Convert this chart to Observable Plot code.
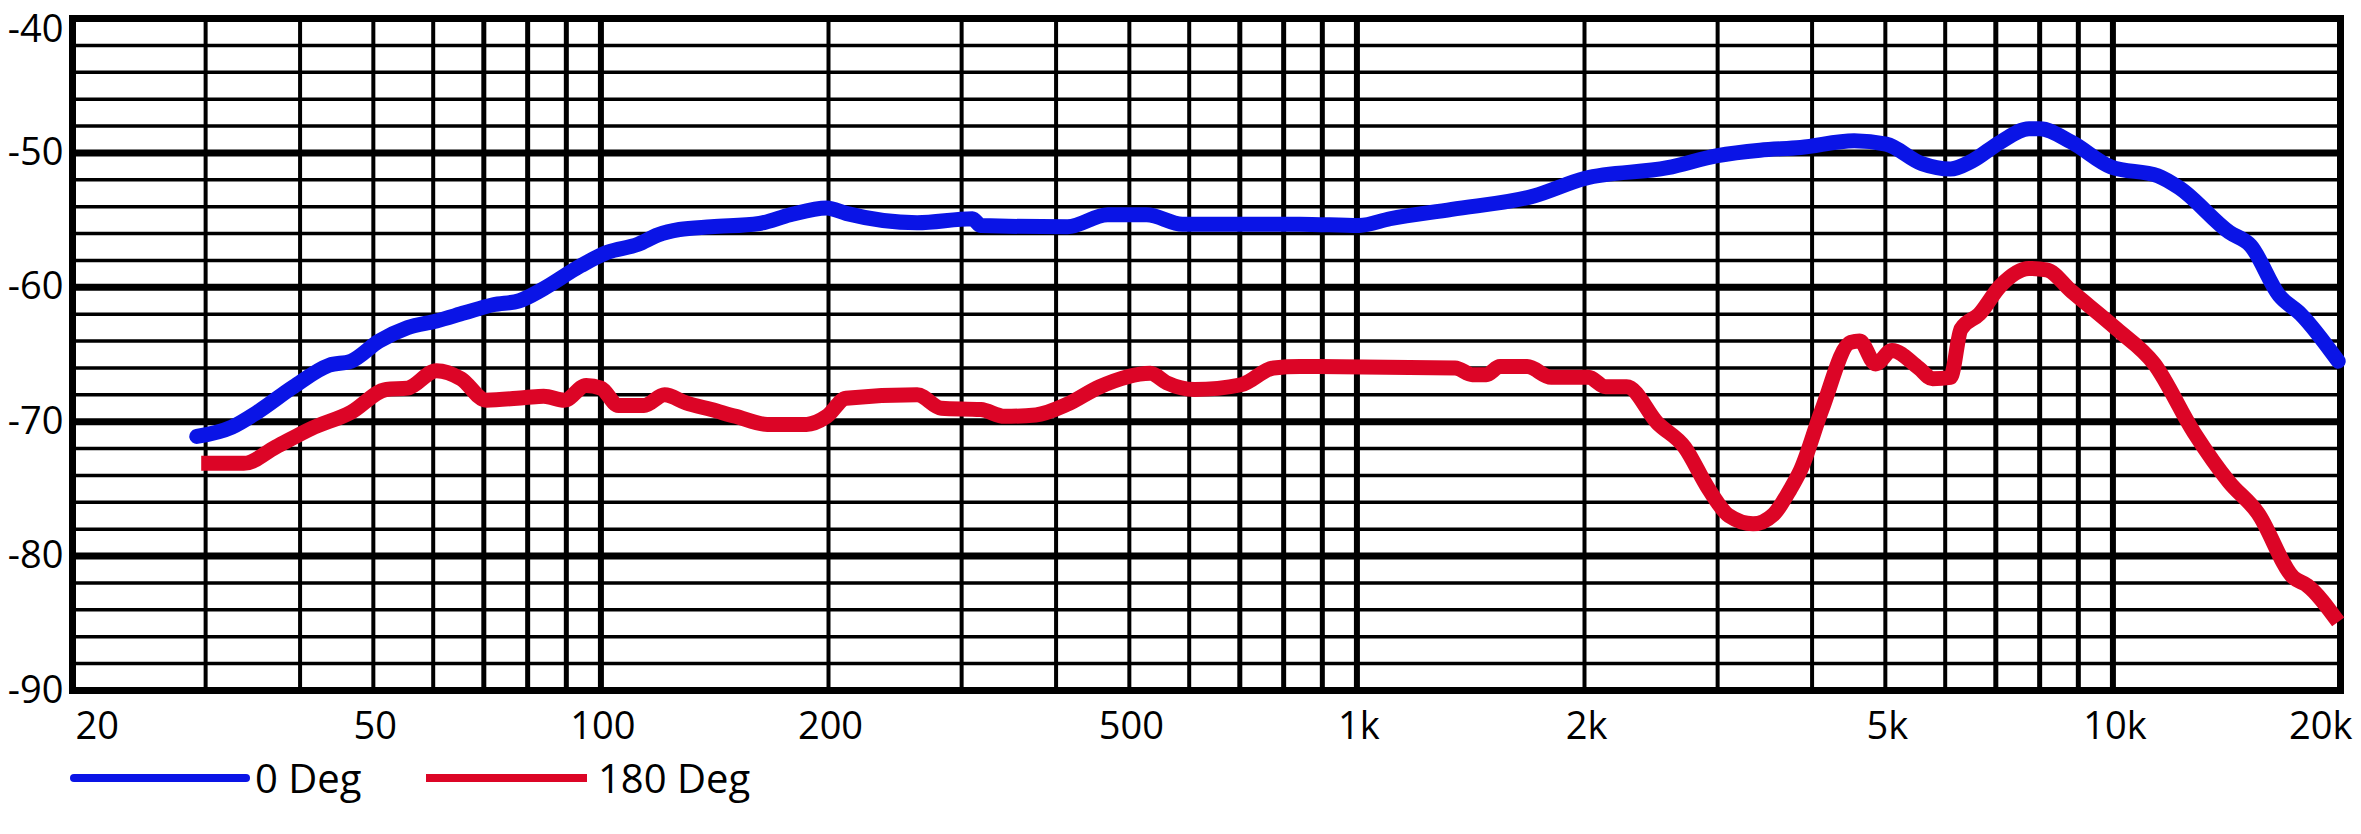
<!DOCTYPE html>
<html><head><meta charset="utf-8">
<script src="https://cdn.jsdelivr.net/npm/d3@7"></script>
<script src="https://cdn.jsdelivr.net/npm/@observablehq/plot@0.6"></script>
<style>
html,body{margin:0;padding:0;background:#fff;}
body{width:2361px;height:834px;overflow:hidden;font-family:"Open Sans",sans-serif;}
svg{display:block;}
</style></head><body>
<div id="chart"></div>
<div id="legend"></div>
<script>
// ---- data ----
const seriesNames = ["0 Deg", "180 Deg"];
const seriesColors = ["#0a14e6", "#dc0526"];

const deg0Freq = [29.2,32.5,35.1,39.2,43.7,46.7,50.9,55.5,60.6,66,72,78,84,94,102,112,119,127,140,162,178,199,211,262,310,318,414,468,527,588,840,1007,1106,1335,1714,2000,2576,3000,3414,3862,4547,5012,5588,6096,6511,7096,7745,8000,8815,9946,11460,12240,14250,15210,16590,17720,19860];
const deg0Db   = [-71.1,-70.4,-69.3,-67.4,-65.8,-65.5,-64.0,-63.0,-62.5,-61.9,-61.3,-61.0,-60.1,-58.4,-57.4,-56.8,-56.1,-55.7,-55.5,-55.25,-54.6,-54.1,-54.5,-55.2,-54.9,-55.4,-55.5,-54.6,-54.6,-55.3,-55.3,-55.4,-54.9,-54.2,-53.2,-51.9,-51.1,-50.2,-49.8,-49.6,-49.1,-49.35,-50.8,-51.2,-50.6,-49.2,-48.2,-48.2,-49.2,-51.05,-51.7,-52.6,-55.9,-56.9,-60.6,-62.0,-65.5];

const deg180Freq = [29.6,33.7,37.1,41.4,46.7,52,55.5,60.6,65.3,70.5,79.5,84,89.5,95.6,100,105.5,114,121.4,129.6,140,150.7,166,187,199,211,262,282,318,342,376,414,457,533,560,610,703,776,841,1349,1421,1483,1546,1680,1807,2024,2133,2274,2497,2713,2918,3106,3342,3557,3745,3862,4122,4497,4624,4855,5102,5535,5773,6096,6297,6656,7096,7745,8167,8815,10110,11340,12800,14250,15550,17330,18090,19860];
const deg180Db   = [-73.1,-73.1,-71.9,-70.5,-69.3,-67.6,-67.5,-66.2,-66.8,-68.4,-68.2,-68.1,-68.4,-67.3,-67.5,-68.8,-68.8,-68.0,-68.6,-69.1,-69.6,-70.2,-70.2,-69.6,-68.25,-68.0,-69.0,-69.1,-69.6,-69.5,-68.7,-67.4,-66.4,-67.1,-67.6,-67.25,-66.0,-65.9,-66.0,-66.5,-66.5,-65.9,-65.9,-66.7,-66.7,-67.4,-67.4,-70.1,-71.9,-75.0,-77.0,-77.6,-76.9,-75.0,-73.6,-69.1,-64.1,-64.0,-65.7,-64.7,-66.0,-66.8,-66.7,-63.1,-62.0,-59.9,-58.6,-58.7,-60.3,-63.1,-65.7,-70.8,-74.5,-76.8,-81.6,-82.2,-84.9];

const xTickValues = [20,50,100,200,500,1000,2000,5000,10000,20000];
const xTickLabels = ["20","50","100","200","500","1k","2k","5k","10k","20k"];
const yTickValues = [-40,-50,-60,-70,-80,-90];
const yTickLabels = ["-40","-50","-60","-70","-80","-90"];

// grid
const gridFreqLight = [30,40,50,60,200,300,400,500,600,2000,3000,4000,5000,6000];
const gridFreqMid = [70,80,90,700,800,900,7000,8000,9000];
const gridFreqDecade = [100,1000,10000];
const gridDbMinor = [-42,-44,-46,-48,-52,-54,-56,-58,-62,-64,-66,-68,-72,-74,-76,-78,-82,-84,-86,-88];
const gridDbMajor = [-50,-60,-70,-80];

const rows0 = deg0Freq.map((f,i)=>({f, db: deg0Db[i]}));
const rows180 = deg180Freq.map((f,i)=>({f, db: deg180Db[i]}));

const W = 2361, H = 750;
const FONT = "Open Sans";

const chart = Plot.plot({
  width: W, height: H,
  marginLeft: 72, marginRight: 21, marginTop: 18, marginBottom: 60,
  x: {type: "log", domain: [20, 20000], axis: null},
  y: {domain: [-90, -40], axis: null},
  style: {fontFamily: FONT, background: "white", overflow: "visible", color: "black"},
  marks: [
    Plot.ruleY(gridDbMinor, {stroke: "black", strokeWidth: 3.5}),
    Plot.ruleY(gridDbMajor, {stroke: "black", strokeWidth: 7}),
    Plot.ruleX(gridFreqLight, {stroke: "black", strokeWidth: 4}),
    Plot.ruleX(gridFreqMid, {stroke: "black", strokeWidth: 5}),
    Plot.ruleX(gridFreqDecade, {stroke: "black", strokeWidth: 6}),
    Plot.frame({stroke: "black", strokeWidth: 7}),
    Plot.line(rows0, {x: "f", y: "db", stroke: seriesColors[0], strokeWidth: 15, strokeLinecap: "round", strokeLinejoin: "round", curve: "monotone-x"}),
    Plot.line(rows180, {x: "f", y: "db", stroke: seriesColors[1], strokeWidth: 15, strokeLinecap: "butt", strokeLinejoin: "round", curve: "monotone-x"}),
    // top y label kept inside the page
    Plot.text(yTickValues.slice(0,1), {y: d => d, text: () => yTickLabels[0], frameAnchor: "left", textAnchor: "end", lineAnchor: "top", dx: -9, dy: -3, fontSize: 38, fill: "black"}),
    Plot.text(yTickValues.slice(1), {y: d => d, text: (d,i) => yTickLabels[i+1], frameAnchor: "left", textAnchor: "end", lineAnchor: "middle", dx: -9, fontSize: 38, fill: "black"}),
    Plot.text(xTickValues.slice(0,1), {x: d => d, text: (d,i) => xTickLabels[i], frameAnchor: "bottom", lineAnchor: "top", textAnchor: "start", dx: 3, dy: 22, fontSize: 38, fill: "black"}),
    Plot.text(xTickValues.slice(1,-1), {x: d => d, text: (d,i) => xTickLabels[i+1], frameAnchor: "bottom", lineAnchor: "top", textAnchor: "middle", dx: 2, dy: 22, fontSize: 38, fill: "black"}),
    Plot.text(xTickValues.slice(-1), {x: d => d, text: () => xTickLabels[xTickLabels.length-1], frameAnchor: "bottom", lineAnchor: "top", textAnchor: "end", dx: 12, dy: 22, fontSize: 38, fill: "black"})
  ]
});
document.getElementById("chart").appendChild(chart);

// ---- legend (below the plot) ----
const legendItems = [
  {name: seriesNames[0], color: seriesColors[0], x0: 74, x1: 246, tx: 255, cap: "round"},
  {name: seriesNames[1], color: seriesColors[1], x0: 426, x1: 587, tx: 598, cap: "butt"}
];
const lg = d3.select("#legend").append("svg").attr("width", W).attr("height", 834 - H);
const g = lg.selectAll("g").data(legendItems).join("g");
g.append("line").attr("x1", d => d.x0).attr("x2", d => d.x1).attr("y1", 28).attr("y2", 28)
  .attr("stroke", d => d.color).attr("stroke-width", 8).attr("stroke-linecap", d => d.cap);
g.append("text").attr("x", d => d.tx).attr("y", 43).text(d => d.name)
  .attr("font-family", FONT).attr("font-size", 40).attr("fill", "black");
</script>
</body></html>
